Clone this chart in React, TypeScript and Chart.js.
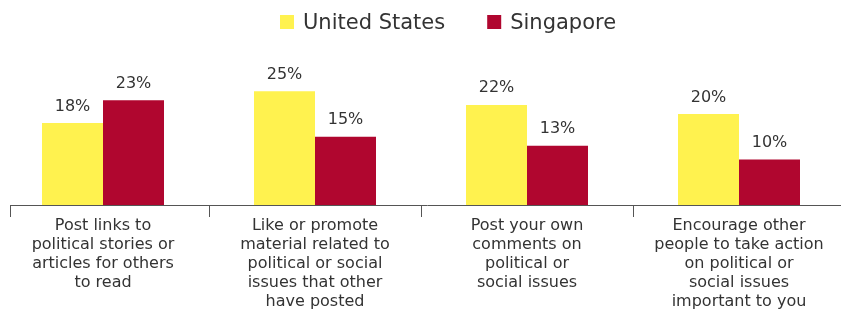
import React, { useEffect, useRef } from "react";
import { Chart, registerables } from "chart.js";

Chart.register(...registerables);

const categories: string[][] = [
  ["Post links to", "political stories or", "articles for others", "to read"],
  ["Like or promote", "material related to", "political or social", "issues that other", "have posted"],
  ["Post your own", "comments on", "political or", "social issues"],
  ["Encourage other", "people to take action", "on political or", "social issues", "important to you"],
];
const seriesNames = ["United States", "Singapore"];
const usValues = [18, 25, 22, 20];
const sgValues = [23, 15, 13, 10];
const seriesColors = ["#FFF24F", "#B0062F"];
const yMax = 30;

const FONT = "'DejaVu Sans', Verdana, sans-serif";
const TEXT = "#333333";
const AXIS = "#555555";

const overlayPlugin = {
  id: "overlay",
  afterDatasetsDraw(chart: any) {
    const ctx = chart.ctx as CanvasRenderingContext2D;
    ctx.save();
    // value labels
    ctx.font = `16px ${FONT}`;
    ctx.fillStyle = TEXT;
    ctx.textAlign = "center";
    ctx.textBaseline = "alphabetic";
    chart.data.datasets.forEach((ds: any, di: number) => {
      const meta = chart.getDatasetMeta(di);
      meta.data.forEach((bar: any, i: number) => {
        ctx.fillText(`${ds.data[i]}%`, bar.x, bar.y - 12.5);
      });
    });
    // axis line and ticks
    const xs = chart.scales.x;
    const y = Math.round(chart.chartArea.bottom) + 0.5;
    const startX = 13;
    ctx.strokeStyle = AXIS;
    ctx.lineWidth = 1;
    ctx.beginPath();
    ctx.moveTo(startX, y);
    ctx.lineTo(chart.width, y);
    const tickXs = [startX];
    for (let i = 0; i < categories.length - 1; i++) {
      tickXs.push((xs.getPixelForValue(i) + xs.getPixelForValue(i + 1)) / 2);
    }
    tickXs.forEach((t) => {
      const tx = Math.round(t) + 0.5;
      ctx.moveTo(tx, y);
      ctx.lineTo(tx, y + 11.5);
    });
    ctx.stroke();
    // legend
    ctx.font = `21px ${FONT}`;
    ctx.textAlign = "left";
    let x = 283;
    chart.data.datasets.forEach((ds: any) => {
      ctx.fillStyle = ds.backgroundColor;
      ctx.fillRect(x, 15, 14, 14);
      ctx.fillStyle = TEXT;
      ctx.fillText(ds.label, x + 23, 29);
      x += 23 + ctx.measureText(ds.label).width + 42;
    });
    ctx.restore();
  },
};

export default function App() {
  const ref = useRef<HTMLCanvasElement | null>(null);
  useEffect(() => {
    document.documentElement.style.overflow = "hidden";
    document.body.style.overflow = "hidden";
    const canvas = ref.current;
    if (!canvas) return;
    const chart = new Chart(canvas, {
      type: "bar",
      data: {
        labels: categories,
        datasets: [
          {
            label: seriesNames[0],
            data: usValues,
            backgroundColor: seriesColors[0],
            barPercentage: 1,
            categoryPercentage: 122 / 212,
          },
          {
            label: seriesNames[1],
            data: sgValues,
            backgroundColor: seriesColors[1],
            barPercentage: 1,
            categoryPercentage: 122 / 212,
          },
        ],
      },
      options: {
        responsive: false,
        animation: false,
        layout: { padding: { top: 68.5, left: 0, right: 0, bottom: 0 } },
        plugins: { legend: { display: false }, tooltip: { enabled: false } },
        scales: {
          x: {
            grid: { display: false, drawTicks: false },
            border: { display: false },
            ticks: {
              color: TEXT,
              font: { family: FONT, size: 16, lineHeight: 19 / 16 },
              padding: 11.5,
              autoSkip: false,
              maxRotation: 0,
              minRotation: 0,
            },
            afterFit: (s: any) => {
              s.height = 104;
            },
          },
          y: { display: false, min: 0, max: yMax },
        },
      },
      plugins: [overlayPlugin],
    } as any);
    return () => chart.destroy();
  }, []);
  return (
    <div style={{ position: "absolute", left: -3, top: 0, width: 848, height: 309, overflow: "hidden" }}>
      <canvas ref={ref} width={848} height={309} style={{ display: "block" }} />
    </div>
  );
}
